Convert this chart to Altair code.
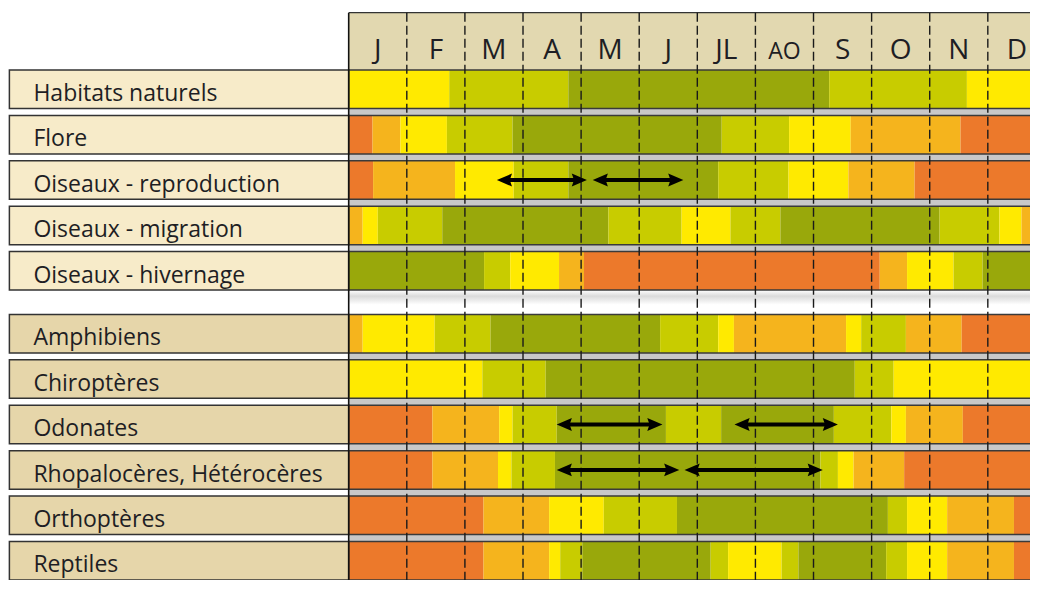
import altair as alt
import pandas as pd

# ---------------- data ----------------
months = ["J", "F", "M", "A", "M", "J", "JL", "AO", "S", "O", "N", "D"]
rows = ["Habitats naturels", "Flore", "Oiseaux - reproduction", "Oiseaux - migration",
        "Oiseaux - hivernage", "Amphibiens", "Chiroptères", "Odonates",
        "Rhopalocères, Hétérocères", "Orthoptères", "Reptiles"]
groups = [0, 0, 0, 0, 0, 1, 1, 1, 1, 1, 1]

# level codes: 0 orange, 1 light orange, 2 yellow, 3 light green, 4 dark olive
levels = [
    [2, 3, 4, 3, 2],
    [0, 1, 2, 3, 4, 3, 2, 1, 0],
    [0, 1, 2, 3, 4, 3, 2, 1, 0],
    [1, 2, 3, 4, 3, 2, 3, 4, 3, 2, 1],
    [4, 3, 2, 1, 0, 1, 2, 3, 4],
    [1, 2, 3, 4, 3, 2, 1, 2, 3, 1, 0],
    [2, 3, 4, 3, 2],
    [0, 1, 2, 3, 4, 3, 4, 3, 2, 1, 0],
    [0, 1, 2, 3, 4, 3, 2, 1, 0],
    [0, 1, 2, 3, 4, 3, 2, 1, 0],
    [0, 1, 2, 3, 4, 3, 2, 3, 4, 3, 2, 1, 0],
]
# segment end points in months (0 = start of January, 12 = end of December)
ends = [
    [1.73, 3.78, 8.27, 10.64, 12],
    [0.41, 0.89, 1.69, 2.82, 6.42, 7.58, 8.64, 10.53, 12],
    [0.42, 1.83, 2.84, 3.78, 6.36, 7.57, 8.60, 9.74, 12],
    [0.24, 0.50, 1.61, 4.47, 5.73, 6.57, 7.43, 10.17, 11.20, 11.58, 12],
    [2.33, 2.78, 3.62, 4.05, 9.14, 9.61, 10.41, 10.91, 12],
    [0.24, 1.48, 2.44, 5.36, 6.36, 6.63, 8.56, 8.82, 9.59, 10.55, 12],
    [2.30, 3.39, 8.71, 9.38, 12],
    [1.44, 2.59, 2.82, 3.58, 5.46, 6.41, 8.35, 9.34, 9.59, 10.57, 12],
    [1.44, 2.57, 2.80, 3.55, 8.12, 8.42, 8.69, 9.56, 12],
    [2.32, 3.45, 4.39, 5.65, 9.28, 9.61, 10.30, 11.45, 12],
    [2.32, 3.45, 3.64, 4.02, 6.23, 6.53, 7.45, 7.74, 9.25, 9.61, 10.30, 11.45, 12],
]
arrow_rows = [2, 2, 7, 7, 8, 8]
arrow_start = [2.55, 4.20, 3.58, 6.64, 3.58, 5.78]
arrow_end = [4.10, 5.76, 5.40, 8.42, 5.69, 8.16]

# ---------------- styles / layout ----------------
palette = ["#EC792B", "#F5B41D", "#FFEA00", "#C8CC00", "#99A80B"]
label_fill = ["#F7EBC9", "#E6D6AA"]
header_fill = "#E2D8B0"
ink = "#1E1E24"
FONT = "Open Sans"

W, H = 1022, 572
PITCH = 45.4                      # pixels per row slot
XMIN, XMAX = -5.864, 11.726
YMIN = -62 / PITCH
YMAX = YMIN + H / PITCH
GAP = 0.384
BAR_H = 38.5 / PITCH
HEADER_TOP = -57.3 / PITCH
TEXT_OFF = 31 / PITCH
MONTH_Y = -11.5 / PITCH
LABEL_LEFT = -5.84

def top(i):
    return i + (GAP if groups[i] == 1 else 0)

xs = alt.Scale(domain=[XMIN, XMAX], nice=False, zero=False)
ys = alt.Scale(domain=[YMIN, YMAX], nice=False, zero=False, reverse=True)

def X(f):
    return alt.X(f, type="quantitative", scale=xs, axis=None)

def Y(f):
    return alt.Y(f, type="quantitative", scale=ys, axis=None)

# segments
seg = []
for i, (lv, en) in enumerate(zip(levels, ends)):
    start = 0.0
    for l, e in zip(lv, en):
        seg.append(dict(row=rows[i], x=start, x2=e, y=top(i), y2=top(i) + BAR_H,
                        fill=palette[l]))
        start = e
seg_df = pd.DataFrame(seg)

lab_df = pd.DataFrame([dict(row=r, x=LABEL_LEFT, x2=0.0, y=top(i), y2=top(i) + BAR_H,
                            ty=top(i) + TEXT_OFF, fill=label_fill[groups[i]])
                       for i, r in enumerate(rows)])

bands = []
for i in range(len(rows) - 1):
    if groups[i] == groups[i + 1]:
        bands.append(dict(x=0.0, x2=XMAX, y=top(i) + BAR_H, y2=top(i + 1)))
band_df = pd.DataFrame(bands)
gap_df = pd.DataFrame([dict(x=0.0, x2=XMAX, y=top(4) + BAR_H, y2=top(5))])

edges = []
for i in range(len(rows)):
    edges.append(dict(x=0.0, x2=XMAX, y=top(i)))
    edges.append(dict(x=0.0, x2=XMAX, y=top(i) + BAR_H))
edge_df = pd.DataFrame(edges)

head_df = pd.DataFrame([dict(x=0.0, x2=XMAX, y=HEADER_TOP, y2=0.0)])
mon_df = pd.DataFrame([dict(m=m, x=i + 0.5, y=MONTH_Y, fs=23 if m == "AO" else 28)
                       for i, m in enumerate(months)])
vline_df = pd.DataFrame([dict(x=float(i), y=HEADER_TOP, y2=YMAX) for i in range(1, 12)])
left_df = pd.DataFrame([dict(x=0.0, y=HEADER_TOP, y2=YMAX)])

arr_df = pd.DataFrame([dict(s=s, e=e, y=top(r) + BAR_H / 2, si=s + 0.15, ei=e - 0.15)
                       for r, s, e in zip(arrow_rows, arrow_start, arrow_end)])

# ---------------- layers ----------------
band_layer = alt.Chart(band_df).mark_rect(color="#C8C8C8", clip=True).encode(
    x=X("x"), x2="x2", y=Y("y"), y2="y2")

gap_layer = alt.Chart(gap_df).mark_rect(
    clip=True,
    color=alt.Gradient(gradient="linear",
                       stops=[alt.GradientStop(offset=0, color="#FFFFFF"),
                              alt.GradientStop(offset=0.25, color="#DADADA"),
                              alt.GradientStop(offset=0.6, color="#FFFFFF"),
                              alt.GradientStop(offset=1, color="#FFFFFF")],
                       x1=0, x2=0, y1=0, y2=1)
).encode(x=X("x"), x2="x2", y=Y("y"), y2="y2")

head_layer = alt.Chart(head_df).mark_rect(color=header_fill, clip=True).encode(
    x=X("x"), x2="x2", y=Y("y"), y2="y2")
head_top = alt.Chart(head_df).mark_rule(color="#333333", strokeWidth=1.2, clip=True).encode(
    x=X("x"), x2="x2", y=Y("y"))

seg_layer = alt.Chart(seg_df).mark_rect(clip=True).encode(
    x=X("x"), x2="x2", y=Y("y"), y2="y2",
    color=alt.Color("fill:N", scale=None, legend=None))

lab_layer = alt.Chart(lab_df).mark_rect(stroke="#333333", strokeWidth=1.5).encode(
    x=X("x"), x2="x2", y=Y("y"), y2="y2",
    color=alt.Color("fill:N", scale=None, legend=None))

lab_text = alt.Chart(lab_df).mark_text(
    align="left", baseline="alphabetic", dx=24, font=FONT, fontSize=23, color=ink
).encode(x=X("x"), y=Y("ty"), text="row:N")

edge_layer = alt.Chart(edge_df).mark_rule(color="#3A3A3A", strokeWidth=1.5, clip=True).encode(
    x=X("x"), x2="x2", y=Y("y"))

vline_layer = alt.Chart(vline_df).mark_rule(
    color="#1A1A1A", strokeWidth=1.4, strokeDash=[9, 4]).encode(
    x=X("x"), y=Y("y"), y2="y2")
left_layer = alt.Chart(left_df).mark_rule(color="#111111", strokeWidth=1.6).encode(
    x=X("x"), y=Y("y"), y2="y2")

mon_layer = alt.Chart(mon_df).mark_text(
    align="center", baseline="alphabetic", font=FONT, color=ink
).encode(x=X("x"), y=Y("y"), text="m:N", size=alt.Size("fs:Q", scale=None, legend=None))

arr_line = alt.Chart(arr_df).mark_rule(color="#000000", strokeWidth=4).encode(
    x=X("si"), x2="ei", y=Y("y"))
left_head = alt.Chart(arr_df).mark_point(
    shape="M0,0L2,-0.85L1.7,0L2,0.85Z", filled=True, size=230, color="#000000", opacity=1
).encode(x=X("s"), y=Y("y"))
right_head = alt.Chart(arr_df).mark_point(
    shape="M0,0L-2,-0.85L-1.7,0L-2,0.85Z", filled=True, size=230, color="#000000", opacity=1
).encode(x=X("e"), y=Y("y"))

chart = alt.layer(
    band_layer, gap_layer, head_layer, head_top, seg_layer, lab_layer, edge_layer,
    vline_layer, left_layer, mon_layer, lab_text, arr_line, left_head, right_head
).properties(
    width=W, height=H, padding=0, autosize=alt.AutoSizeParams(type="none"),
    background="#FFFFFF"
).configure_view(stroke=None)

chart.save("out.html", embed_options={"renderer": "svg", "actions": False})
